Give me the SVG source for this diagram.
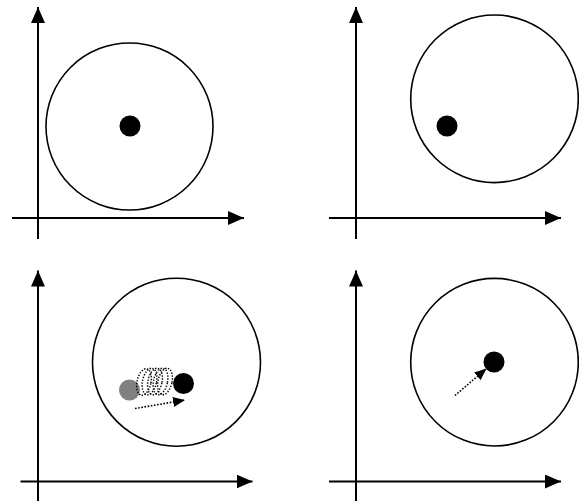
<svg xmlns="http://www.w3.org/2000/svg" width="579" height="501" viewBox="0 0 579 501">
<style>
.ax{stroke:#000;stroke-width:2;fill:none}
.ring{stroke:#000;stroke-width:1.6;fill:none}
.dot{fill:#000}
.gdot{fill:#808080}
.dash{stroke:#000;stroke-width:1.6;stroke-dasharray:1.6 1.6;fill:none}
.coil{stroke:#000;stroke-width:1.4;stroke-dasharray:1.4 1.5;fill:none}
.head{fill:#000}
</style>
<defs>
<marker id="ah" viewBox="0 0 16 14" refX="16" refY="7" markerWidth="16" markerHeight="14" markerUnits="userSpaceOnUse" orient="auto">
<path d="M0,0 L16,7 L0,14 Z" class="head"/>
</marker>
<marker id="sh" viewBox="0 0 12 10" refX="12" refY="5" markerWidth="12" markerHeight="10" markerUnits="userSpaceOnUse" orient="auto">
<path d="M0,0 L12,5 L0,10 Z" class="head"/>
</marker>
</defs>
<rect width="579" height="501" fill="#fff"/>
<g id="connectors">
<line class="ax" x1="38" y1="239" x2="38" y2="7" marker-end="url(#ah)"/>
<line class="ax" x1="12" y1="218" x2="244" y2="218" marker-end="url(#ah)"/>
<line class="ax" x1="356" y1="239" x2="356" y2="7" marker-end="url(#ah)"/>
<line class="ax" x1="329" y1="218" x2="561" y2="218" marker-end="url(#ah)"/>
<line class="ax" x1="38" y1="501" x2="38" y2="270.5" marker-end="url(#ah)"/>
<line class="ax" x1="20.5" y1="481.5" x2="252.5" y2="481.5" marker-end="url(#ah)"/>
<line class="ax" x1="356" y1="501" x2="356" y2="270.5" marker-end="url(#ah)"/>
<line class="ax" x1="329" y1="481.5" x2="561" y2="481.5" marker-end="url(#ah)"/>
<line class="dash" x1="135" y1="408.5" x2="185" y2="400" marker-end="url(#sh)"/>
<line class="dash" x1="455" y1="395.5" x2="486.5" y2="368.5" marker-end="url(#sh)"/>
</g>
<g id="panel1">
<circle class="ring" cx="129.5" cy="126.5" r="83.5"/>
<circle id="dot1" class="dot" cx="130" cy="126" r="10.5"/>
</g>
<g id="panel2">
<circle class="ring" cx="494.5" cy="98.8" r="83.8"/>
<circle id="dot2" class="dot" cx="447" cy="126" r="10.5"/>
</g>
<g id="panel3">
<circle class="ring" cx="176.5" cy="362.2" r="84"/>
<circle id="dot3g" class="gdot" cx="129.5" cy="390" r="10.5"/>
<g id="coil">
<ellipse class="coil" cx="144" cy="382" rx="7" ry="13.5" transform="rotate(12 144 382)"/>
<ellipse class="coil" cx="149.5" cy="381.5" rx="7" ry="13.5" transform="rotate(12 149.5 381.5)"/>
<ellipse class="coil" cx="155" cy="381.5" rx="7" ry="13.5" transform="rotate(12 155 381.5)"/>
<ellipse class="coil" cx="160.5" cy="381.5" rx="7" ry="13.5" transform="rotate(12 160.5 381.5)"/>
<ellipse class="coil" cx="165" cy="381.5" rx="7" ry="13.5" transform="rotate(12 165 381.5)"/>
</g>
<circle id="dot3b" class="dot" cx="183.5" cy="383.5" r="10.5"/>
</g>
<g id="panel4">
<circle class="ring" cx="494.5" cy="362.2" r="83.8"/>
<circle id="dot4" class="dot" cx="494" cy="362" r="10.5"/>
</g>
</svg>
